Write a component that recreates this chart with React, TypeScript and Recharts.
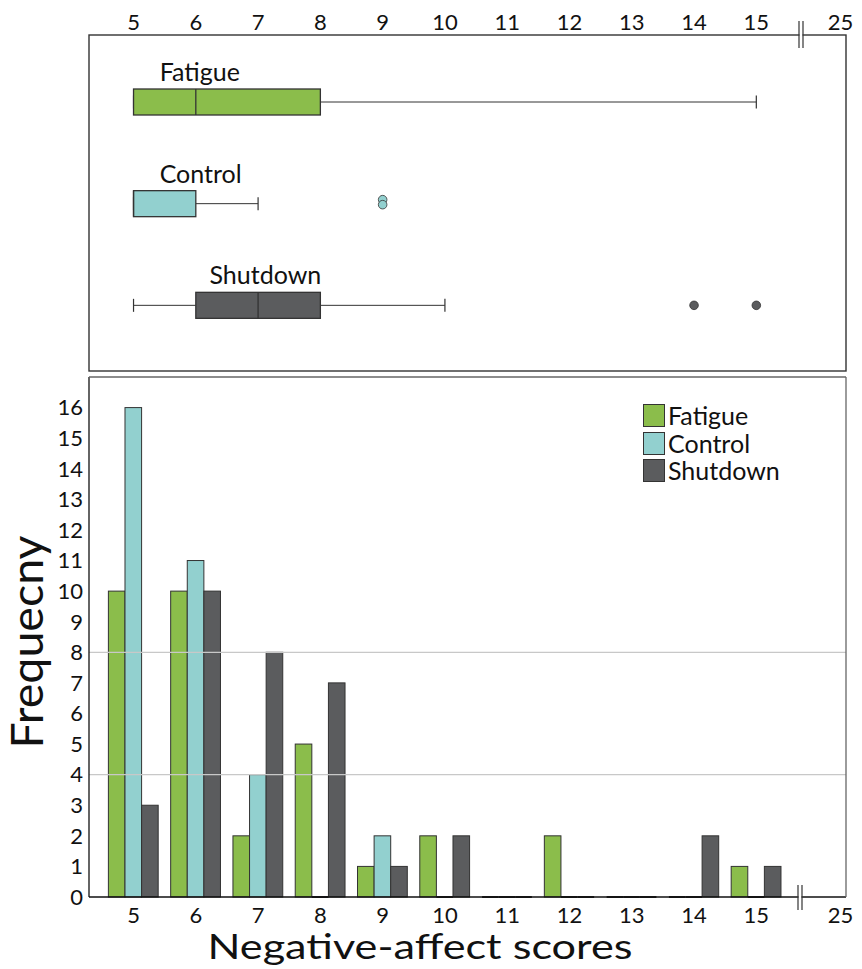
import React from "react";
import {
  BarChart,
  Bar,
  ComposedChart,
  XAxis,
  YAxis,
  ReferenceLine,
  Legend,
} from "recharts";

// histogram counts per negative-affect score
const SCORES = [5, 6, 7, 8, 9, 10, 11, 12, 13, 14, 15];
const FATIGUE = [10, 10, 2, 5, 1, 2, 0, 2, 0, 0, 1];
const CONTROL = [16, 11, 4, 0, 2, 0, 0, 0, 0, 0, 0];
const SHUTDOWN = [3, 10, 8, 7, 1, 2, 0, 0, 0, 2, 1];

const Y_TICKS = [0, 1, 2, 3, 4, 5, 6, 7, 8, 9, 10, 11, 12, 13, 14, 15, 16];
const GRID_AT = [4, 8];
const BREAK_LABEL = "25";

// box plot summaries
const GROUPS = ["Fatigue", "Control", "Shutdown"];
const MINS = [5, 5, 5];
const Q1S = [5, 5, 6];
const MEDIANS = [6, 5, 7];
const Q3S = [8, 6, 8];
const MAXS = [15, 7, 10];
const OUTLIERS = [[], [9, 9], [14, 15]];

const COLORS = ["#8bbd4b", "#92d0cf", "#5b5c5e"];
const EDGE = "#333";
const FONT = "Lato, 'Open Sans', sans-serif";

// shared score scale (broken axis: the last slot stands for 25)
const X_MIN = 4.285;
const X_MAX = 16.44;
const BREAK_POS = 16.35;
const LABEL_AT = [5.42, 5.42, 6.22];

const barRows = SCORES.map((s, i) => ({
  score: s,
  fatigue: FATIGUE[i],
  control: CONTROL[i],
  shutdown: SHUTDOWN[i],
}));

const boxRows = GROUPS.map((g, i) => ({
  group: g,
  range: [Q1S[i], Q3S[i]],
  min: MINS[i],
  q1: Q1S[i],
  median: MEDIANS[i],
  q3: Q3S[i],
  max: MAXS[i],
  outliers: OUTLIERS[i],
  color: COLORS[i],
  labelAt: LABEL_AT[i],
}));

const xTicks = [...SCORES, BREAK_POS];
const fmtX = (v: number) => (v === BREAK_POS ? BREAK_LABEL : String(v));

function BoxShape(props: any) {
  const { x, y, width, height, payload } = props;
  const left = Math.min(x, x + width);
  const w = Math.abs(width);
  const ppu = w / (payload.q3 - payload.q1);
  const px = (v: number) => left + (v - payload.q1) * ppu;
  const cy = y + height / 2;
  const cap = 6.5;
  const seen: Record<number, number> = {};
  return (
    <g>
      <line x1={px(payload.min)} x2={px(payload.q1)} y1={cy} y2={cy} stroke={EDGE} strokeWidth={1} />
      <line x1={px(payload.q3)} x2={px(payload.max)} y1={cy} y2={cy} stroke={EDGE} strokeWidth={1} />
      <line x1={px(payload.min)} x2={px(payload.min)} y1={cy - cap} y2={cy + cap} stroke={EDGE} strokeWidth={1.2} />
      <line x1={px(payload.max)} x2={px(payload.max)} y1={cy - cap} y2={cy + cap} stroke={EDGE} strokeWidth={1.2} />
      <rect x={left} y={y} width={w} height={height} fill={payload.color} stroke={EDGE} strokeWidth={1.3} />
      <line x1={px(payload.median)} x2={px(payload.median)} y1={y} y2={y + height} stroke={EDGE} strokeWidth={1.3} />
      {payload.outliers.map((o: number, k: number) => {
        const dup = payload.outliers.filter((v: number) => v === o).length;
        const n = seen[o] || 0;
        seen[o] = n + 1;
        const dy = dup > 1 ? -4 + n * 5 : 0;
        return (
          <circle key={k} cx={px(o)} cy={cy + dy} r={4.3} fill={payload.color} stroke={EDGE} strokeWidth={0.8} />
        );
      })}
      <text x={px(payload.labelAt)} y={y - 8} fontSize={25} fontFamily={FONT} fill="#111">
        {payload.group}
      </text>
    </g>
  );
}

function HistBar(props: any) {
  const { x, y, width, height, fill } = props;
  if (!height || Math.abs(height) < 0.5) {
    return <line x1={x} x2={x + width} y1={y} y2={y} stroke="#222" strokeWidth={2} />;
  }
  return <rect x={x} y={y} width={width} height={height} fill={fill} stroke={EDGE} strokeWidth={1} />;
}

function LegendBox(props: any) {
  const items = [...(props.payload || [])].sort(
    (a: any, b: any) => GROUPS.indexOf(a.value) - GROUPS.indexOf(b.value)
  );
  return (
    <div style={{ fontFamily: FONT }}>
      {items.map((it: any) => (
        <div key={it.value} style={{ display: "flex", alignItems: "center", height: 27.5 }}>
          <div
            style={{
              width: 22,
              height: 23,
              background: it.color,
              border: `1px solid ${EDGE}`,
              boxSizing: "border-box",
            }}
          />
          <span style={{ fontSize: 25, marginLeft: 3, color: "#111", lineHeight: 1 }}>{it.value}</span>
        </div>
      ))}
    </div>
  );
}

const tickStyle = { fontSize: 22, fontFamily: FONT, fill: "#111" };

export default function App() {
  return (
    <div style={{ position: "absolute", left: 0, top: 0, width: 862, height: 969, background: "#fff" }}>
      {/* box plot panel */}
      <div style={{ position: "absolute", left: 0, top: 0 }}>
        <ComposedChart
          width={862}
          height={375}
          layout="vertical"
          data={boxRows}
          margin={{ top: 0, right: 16, bottom: 19, left: 89 }}
        >
          <XAxis
            type="number"
            orientation="top"
            domain={[X_MIN, X_MAX]}
            allowDataOverflow
            ticks={xTicks}
            interval={0}
            tickFormatter={fmtX}
            axisLine={false}
            tickLine={false}
            tickSize={0}
            tickMargin={21}
            height={51}
            tick={tickStyle}
          />
          <YAxis type="category" dataKey="group" hide />
          <Bar dataKey="range" barSize={26} shape={<BoxShape />} isAnimationActive={false} />
        </ComposedChart>
      </div>

      {/* histogram panel */}
      <div style={{ position: "absolute", left: 0, top: 370 }}>
        <BarChart
          width={862}
          height={599}
          data={barRows}
          margin={{ top: 7, right: 16, bottom: 0, left: 0 }}
          barCategoryGap="10%"
          barGap={0}
        >
          <XAxis
            dataKey="score"
            type="number"
            domain={[X_MIN, X_MAX]}
            allowDataOverflow
            ticks={xTicks}
            interval={0}
            tickFormatter={fmtX}
            axisLine={{ stroke: "#111", strokeWidth: 1.3 }}
            tickLine={false}
            tickSize={0}
            tickMargin={10}
            height={72}
            tick={tickStyle}
            label={(p: any) => {
              const vb = p.viewBox;
              return (
                <text
                  x={vb.x + 331}
                  y={vb.y + 62}
                  textAnchor="middle"
                  fontSize={35}
                  fontFamily={FONT}
                  fill="#111"
                  textLength={425}
                  lengthAdjust="spacingAndGlyphs"
                >
                  Negative-affect scores
                </text>
              );
            }}
          />
          <YAxis
            domain={[0, 17]}
            ticks={Y_TICKS}
            interval={0}
            width={89}
            axisLine={{ stroke: "#111", strokeWidth: 1.3 }}
            tickLine={false}
            tickSize={0}
            tickMargin={6}
            tick={tickStyle}
            label={(p: any) => {
              const vb = p.viewBox;
              const cx = vb.x + 43;
              const cy = vb.y + vb.height / 2 + 5;
              return (
                <text
                  x={cx}
                  y={cy}
                  transform={`rotate(-90, ${cx}, ${cy})`}
                  textAnchor="middle"
                  fontSize={44}
                  fontFamily={FONT}
                  fill="#111"
                  textLength={213}
                  lengthAdjust="spacingAndGlyphs"
                >
                  Frequecny
                </text>
              );
            }}
          />
          {GRID_AT.map((g) => (
            <ReferenceLine key={g} y={g} stroke="#c8c8c8" strokeWidth={1.2} />
          ))}
          <Legend
            layout="vertical"
            align="center"
            verticalAlign="middle"
            wrapperStyle={{ position: "absolute", left: 643, top: 32, width: 170 }}
            content={<LegendBox />}
          />
          <Bar dataKey="fatigue" name="Fatigue" fill={COLORS[0]} barSize={16.6} shape={<HistBar />} isAnimationActive={false} />
          <Bar dataKey="control" name="Control" fill={COLORS[1]} barSize={16.6} shape={<HistBar />} isAnimationActive={false} />
          <Bar dataKey="shutdown" name="Shutdown" fill={COLORS[2]} barSize={16.6} shape={<HistBar />} isAnimationActive={false} />
        </BarChart>
      </div>

      {/* panel frames and axis-break marks */}
      <svg
        width={862}
        height={969}
        style={{ position: "absolute", left: 0, top: 0, pointerEvents: "none" }}
      >
        <rect x={89} y={35} width={757} height={336} fill="none" stroke={EDGE} strokeWidth={1.4} />
        <line x1={89} x2={846} y1={377} y2={377} stroke="#666" strokeWidth={1.3} />
        <line x1={846} x2={846} y1={377} y2={897} stroke="#666" strokeWidth={1.3} />
        <rect x={799.5} y={32} width={3} height={6} fill="#fff" />
        <line x1={799} x2={799} y1={21} y2={48} stroke={EDGE} strokeWidth={1.2} />
        <line x1={803} x2={803} y1={21} y2={48} stroke={EDGE} strokeWidth={1.2} />
        <rect x={798.5} y={894} width={3} height={6} fill="#fff" />
        <line x1={798} x2={798} y1={885} y2={910} stroke={EDGE} strokeWidth={1.2} />
        <line x1={802} x2={802} y1={885} y2={910} stroke={EDGE} strokeWidth={1.2} />
      </svg>
    </div>
  );
}
